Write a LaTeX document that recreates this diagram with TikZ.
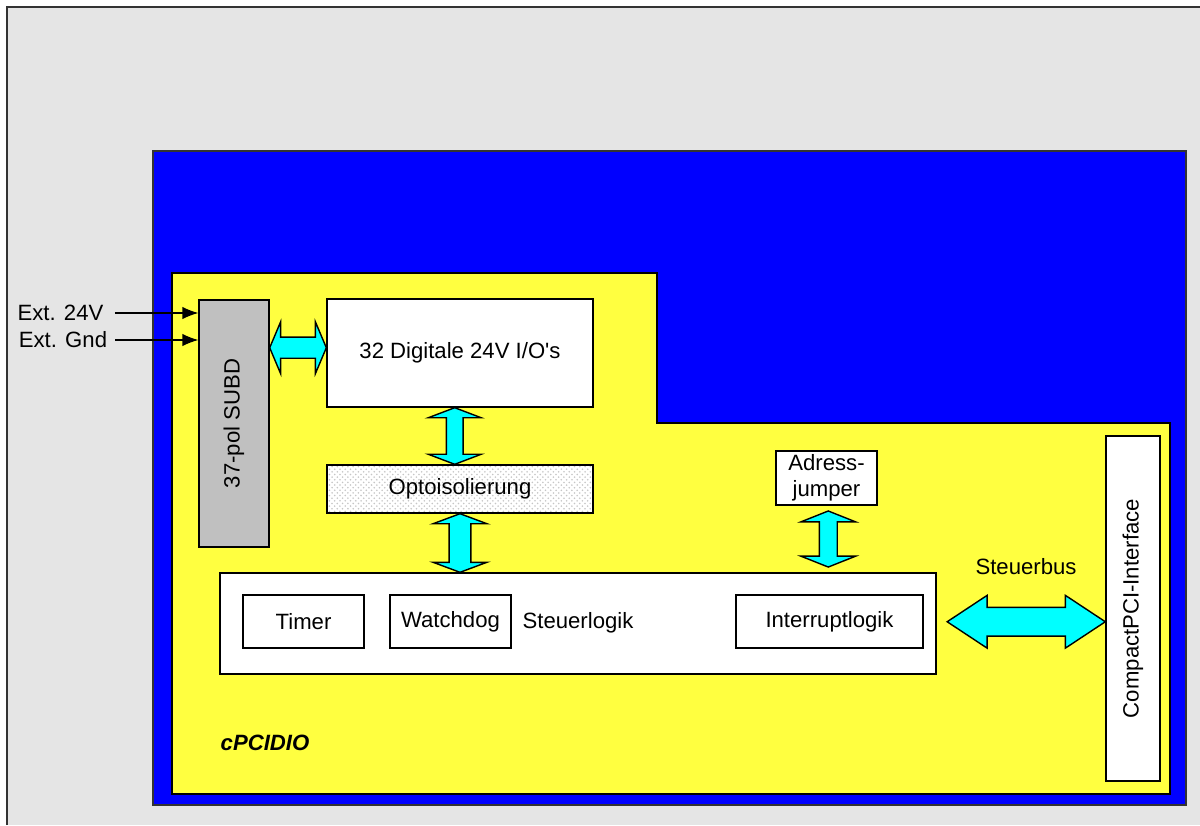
\documentclass[tikz,border=0pt]{standalone}
\usepackage{fontspec}
\setmainfont{Liberation Sans}[Ligatures=TeXOff]
\usepackage{graphicx}
\usetikzlibrary{calc, patterns, arrows.meta}
\definecolor{bggray}{HTML}{E5E5E5}
\definecolor{boardblue}{HTML}{0000FF}
\definecolor{boardyellow}{HTML}{FFFF40}
\definecolor{busaqua}{HTML}{00FFFF}
\definecolor{subdgray}{HTML}{C0C0C0}
\definecolor{edgegray}{HTML}{333333}
\tikzset{blk/.style={draw=black, line width=0.8pt, fill=white, inner sep=2pt},
  busfill/.style={draw=black, line width=0.8pt, fill=busaqua, line join=miter}}
\newcommand{\fatbus}[5]{\draw[busfill] (#1) -- ($(#1)!#3!(#2)!#4!90:(#2)$) -- ($(#1)!#3!(#2)!#5!90:(#2)$) -- ($(#2)!#3!(#1)!#5!-90:(#1)$) -- ($(#2)!#3!(#1)!#4!-90:(#1)$) -- (#2) -- ($(#2)!#3!(#1)!#4!90:(#1)$) -- ($(#2)!#3!(#1)!#5!90:(#1)$) -- ($(#1)!#3!(#2)!#5!-90:(#2)$) -- ($(#1)!#3!(#2)!#4!-90:(#2)$) -- cycle;}

\begin{document}
\begin{tikzpicture}[x=0.02cm, y=-0.02cm, font=\fontsize{12.6}{15}\selectfont]
\useasboundingbox (0,0) rectangle (1200,825);
\fill[bggray] (7,7) rectangle (1200,825);
\draw[edgegray, line width=1.2pt] (7,825) -- (7,7) -- (1200,7);
\draw[edgegray, line width=0.8pt, fill=boardblue] (153,151) rectangle (1186,805);
\draw[black, line width=0.8pt, fill=boardyellow] (172,273) -- (657,273) -- (657,423) -- (1170,423) -- (1170,794) -- (172,794) -- cycle;
\node[blk, fill=subdgray, minimum width=1.4cm, minimum height=4.94cm] (subd) at (234,423.5) {\rotatebox{90}{37-pol SUBD}};
\node[blk, minimum width=5.32cm, minimum height=2.16cm] (dig) at (460,353) {32 Digitale 24V I/O's};
\node[blk, preaction={fill=white}, pattern=crosshatch dots, pattern color=gray!45, minimum width=5.32cm, minimum height=0.96cm] (opto) at (460,489) {Optoisolierung};
\node[blk, minimum width=14.32cm, minimum height=2.02cm] (logik) at (578,623.5) {};
\node[blk, minimum width=2.42cm, minimum height=1.06cm] (timer) at (303.5,621.5) {Timer};
\node[blk, minimum width=2.42cm, minimum height=1.06cm] (watch) at (450.5,621.5) {Watchdog};
\node (steuer) at (578,623) {Steuerlogik};
\node[blk, minimum width=3.74cm, minimum height=1.06cm] (intr) at (829.5,621.5) {Interruptlogik};
\node[blk, minimum width=2.02cm, minimum height=1.08cm, align=center] (adr) at (826.5,478) {Adress-\\jumper};
\node[blk, minimum width=1.08cm, minimum height=6.9cm] (cpci) at (1133,608.5) {\rotatebox{90}{CompactPCI-Interface}};
\node (bus) at (1026,567) {Steuerbus};
\node[font=\fontsize{12.6}{15}\selectfont\bfseries\itshape] (card) at (265,743) {cPCIDIO};
\node (v24) at (60.5,313) {Ext. 24V};
\node (gnd) at (63,340) {Ext. Gnd};
\draw[-{Latex[length=9pt,width=7pt]}, line width=0.6pt] ([xshift=3pt]v24.east) -- (v24 -| subd.west);
\draw[-{Latex[length=9pt,width=7pt]}, line width=0.6pt] ([xshift=1pt]gnd.east) -- (gnd -| subd.west);
\coordinate (s1) at ($(subd.east |- dig.west)+(0pt,3pt)$);
\coordinate (s2) at ($(dig.west)+(0pt,3pt)$);
\fatbus{s1}{s2}{6.2pt}{14.7pt}{6pt}
\coordinate (d1) at ($(dig.south)+(-3pt,0pt)$);
\coordinate (d2) at ($(opto.north)+(-3pt,0pt)$);
\fatbus{d1}{d2}{5.7pt}{15pt}{4.8pt}
\coordinate (o2) at (opto.south |- logik.north);
\fatbus{opto.south}{o2}{5.7pt}{15.3pt}{6.2pt}
\coordinate (a1) at ($(adr.south)+(1pt,-3pt)$);
\coordinate (a2) at ($(adr.south |- logik.north)+(1pt,3pt)$);
\fatbus{a1}{a2}{6.2pt}{15.6pt}{5.1pt}
\coordinate (b1) at ($(logik.east)+(6pt,1pt)$);
\coordinate (b2) at ($(logik.east -| cpci.west)+(0pt,1pt)$);
\fatbus{b1}{b2}{22.7pt}{15pt}{8.2pt}
\end{tikzpicture}
\end{document}
